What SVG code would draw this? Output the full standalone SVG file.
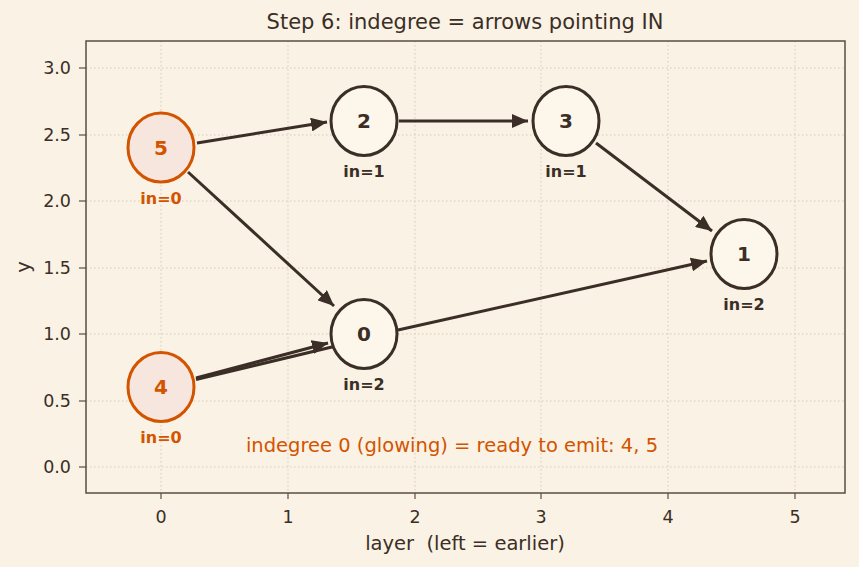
<svg xmlns="http://www.w3.org/2000/svg" width="859" height="567" viewBox="0 0 859 567">
<style>
text{font-family:"DejaVu Sans",sans-serif;fill:#3a2e26}
.tick{font-size:17.5px}
.grid line{stroke:#d6cbb8;stroke-width:1;stroke-dasharray:1.5 2.5}
.edge{stroke:#3a2e26;stroke-width:3;fill:none}
.node ellipse{stroke:#3a2e26;stroke-width:3;fill:#fdf6ea}
.node.hot ellipse{stroke:#d35400;fill:#f6e6dd}
.lab{font-size:20px;font-weight:bold;text-anchor:middle}
.hot .lab,.hot .sub{fill:#d35400}
.sub{font-size:16px;font-weight:bold;text-anchor:middle}
</style>
<defs>
<marker id="ah2" markerWidth="16" markerHeight="14" refX="16" refY="7" orient="auto" markerUnits="userSpaceOnUse">
<path d="M0,0 L16,7 L0,14 z" fill="#3a2e26"/>
</marker>
</defs>
<rect width="859" height="567" fill="#faf2e4"/>
<rect x="86" y="41" width="759" height="452" fill="#faf2e4"/>
<g class="grid">
<line x1="161" y1="41" x2="161" y2="493"/><line x1="288" y1="41" x2="288" y2="493"/><line x1="415" y1="41" x2="415" y2="493"/><line x1="541" y1="41" x2="541" y2="493"/><line x1="668" y1="41" x2="668" y2="493"/><line x1="795" y1="41" x2="795" y2="493"/>
<line x1="86" y1="467" x2="845" y2="467"/><line x1="86" y1="401" x2="845" y2="401"/><line x1="86" y1="334" x2="845" y2="334"/><line x1="86" y1="268" x2="845" y2="268"/><line x1="86" y1="201" x2="845" y2="201"/><line x1="86" y1="135" x2="845" y2="135"/><line x1="86" y1="68" x2="845" y2="68"/>
</g>
<rect x="86" y="41" width="759" height="452" fill="none" stroke="#5a4e42" stroke-width="1.5"/>
<g stroke="#5a4e42" stroke-width="1.2">
<line x1="161" y1="493" x2="161" y2="499"/><line x1="288" y1="493" x2="288" y2="499"/><line x1="415" y1="493" x2="415" y2="499"/><line x1="541" y1="493" x2="541" y2="499"/><line x1="668" y1="493" x2="668" y2="499"/><line x1="795" y1="493" x2="795" y2="499"/>
<line x1="79" y1="467" x2="86" y2="467"/><line x1="79" y1="401" x2="86" y2="401"/><line x1="79" y1="334" x2="86" y2="334"/><line x1="79" y1="268" x2="86" y2="268"/><line x1="79" y1="201" x2="86" y2="201"/><line x1="79" y1="135" x2="86" y2="135"/><line x1="79" y1="68" x2="86" y2="68"/>
</g>
<g class="tick" text-anchor="middle">
<text x="161" y="523">0</text><text x="288" y="523">1</text><text x="415" y="523">2</text><text x="541" y="523">3</text><text x="668" y="523">4</text><text x="795" y="523">5</text>
</g>
<g class="tick" text-anchor="end">
<text x="71" y="473">0.0</text><text x="71" y="407">0.5</text><text x="71" y="340">1.0</text><text x="71" y="274">1.5</text><text x="71" y="207">2.0</text><text x="71" y="141">2.5</text><text x="71" y="74">3.0</text>
</g>
<text x="465" y="550" font-size="19.5" text-anchor="middle" xml:space="preserve" style="white-space:pre">layer  (left = earlier)</text>
<text x="0" y="0" font-size="19.5" text-anchor="middle" transform="translate(30,267) rotate(-90)">y</text>
<text x="465" y="29" font-size="21" text-anchor="middle">Step 6: indegree = arrows pointing IN</text>
<g id="connectors">
<line class="edge" marker-end="url(#ah2)" x1="197" y1="143" x2="327" y2="122"/>
<line class="edge" marker-end="url(#ah2)" x1="188" y1="172" x2="334" y2="306"/>
<line class="edge" marker-end="url(#ah2)" x1="399" y1="121" x2="528" y2="121"/>
<line class="edge" marker-end="url(#ah2)" x1="596" y1="143" x2="712" y2="231"/>
<line class="edge" marker-end="url(#ah2)" x1="398" y1="330" x2="707" y2="261"/>
<line class="edge" marker-end="url(#ah2)" x1="196" y1="378" x2="328" y2="343"/>
<line class="edge" x1="196" y1="379.5" x2="334" y2="346.5"/>
</g>
<g id="node5" class="node hot"><ellipse cx="161" cy="147.5" rx="33" ry="34.5"/><text class="lab" x="161" y="155">5</text><text class="sub" x="161" y="204">in=0</text></g>
<g id="node4" class="node hot"><ellipse cx="161" cy="387" rx="33" ry="34.5"/><text class="lab" x="161" y="394">4</text><text class="sub" x="161" y="443">in=0</text></g>
<g id="node2" class="node"><ellipse cx="364" cy="121" rx="33" ry="34.5"/><text class="lab" x="364" y="128">2</text><text class="sub" x="364" y="177">in=1</text></g>
<g id="node0" class="node"><ellipse cx="364" cy="334" rx="33" ry="34.5"/><text class="lab" x="364" y="341">0</text><text class="sub" x="364" y="390">in=2</text></g>
<g id="node3" class="node"><ellipse cx="566" cy="121" rx="33" ry="34.5"/><text class="lab" x="566" y="128">3</text><text class="sub" x="566" y="177">in=1</text></g>
<g id="node1" class="node"><ellipse cx="744" cy="254" rx="33" ry="34.5"/><text class="lab" x="744" y="261">1</text><text class="sub" x="744" y="310">in=2</text></g>
<text x="452" y="452" font-size="19.5" text-anchor="middle" style="fill:#d35400">indegree 0 (glowing) = ready to emit: 4, 5</text>
</svg>
